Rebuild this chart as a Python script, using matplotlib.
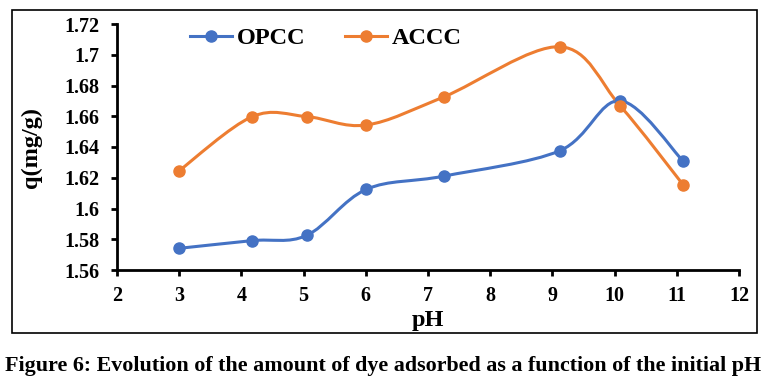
import matplotlib
matplotlib.use("Agg")
import matplotlib.pyplot as plt
from matplotlib.path import Path
from matplotlib.patches import PathPatch, Rectangle
from matplotlib.lines import Line2D
import numpy as np

# --- Data ---
ph = [3.0, 4.17, 5.05, 6.01, 7.26, 9.12, 10.09, 11.1]
q_opcc = [1.5741, 1.5791, 1.5825, 1.6125, 1.6211, 1.6376, 1.6701, 1.6309]
q_accc = [1.6246, 1.6597, 1.6598, 1.6543, 1.6727, 1.7052, 1.6667, 1.6155]

blue = "#4472C4"
orange = "#ED7D31"

plt.rcParams["font.family"] = ["Liberation Serif", "DejaVu Serif"]
plt.rcParams["font.weight"] = "bold"


def smooth_path(x, y):
    # Excel-like smoothed line: cubic Bezier segments through the points
    x = np.asarray(x, float)
    y = np.asarray(y, float)
    n = len(x)
    verts = [(x[0], y[0])]
    codes = [Path.MOVETO]
    for i in range(n - 1):
        i0 = max(i - 1, 0)
        i3 = min(i + 2, n - 1)
        c1 = (x[i] + (x[i + 1] - x[i0]) / 6, y[i] + (y[i + 1] - y[i0]) / 6)
        c2 = (x[i + 1] - (x[i3] - x[i]) / 6, y[i + 1] - (y[i3] - y[i]) / 6)
        verts += [c1, c2, (x[i + 1], y[i + 1])]
        codes += [Path.CURVE4] * 3
    return Path(verts, codes)


fig = plt.figure(figsize=(7.67, 3.92), dpi=100)
ax = fig.add_axes([117 / 767, 1 - 270 / 392, 622 / 767, 246 / 392])

for q, c in [(q_opcc, blue), (q_accc, orange)]:
    ax.add_patch(PathPatch(smooth_path(ph, q), facecolor="none", edgecolor=c, lw=2.2, zorder=2))
    ax.plot(ph, q, ls="none", marker="o", ms=8, color=c, zorder=3)

ax.set_xlim(2, 12)
ax.set_ylim(1.56, 1.72)
ax.set_xticks(range(2, 13))
ax.set_yticks(np.arange(1.56, 1.7201, 0.02))
ax.set_yticklabels(["1.56", "1.58", "1.6", "1.62", "1.64", "1.66", "1.68", "1.7", "1.72"])

for s in ["top", "right"]:
    ax.spines[s].set_visible(False)
for s in ["left", "bottom"]:
    ax.spines[s].set_linewidth(2)
ax.tick_params(axis="both", direction="out", length=4.5, width=2, labelsize=14.5)
ax.tick_params(axis="y", pad=8)
ax.tick_params(axis="x", pad=7)

ax.set_xlabel("pH", fontsize=17.5, fontweight="bold", labelpad=3)
ax.set_ylabel("q(mg/g)", fontsize=17.5, fontweight="bold", labelpad=16)

handles = [
    Line2D([], [], color=blue, lw=2.2, marker="o", ms=8),
    Line2D([], [], color=orange, lw=2.2, marker="o", ms=8),
]
ax.legend(handles, ["OPCC", "ACCC"], ncol=2, frameon=False, loc="center",
          bbox_to_anchor=(326 / 767, 1 - 38 / 392), bbox_transform=fig.transFigure,
          prop={"size": 17.5, "weight": "bold"}, handlelength=1.75, handletextpad=0.2,
          columnspacing=1.6)

# outer frame around the chart
fig.patches.append(Rectangle((12 / 767, 1 - 333 / 392), 745 / 767, 323 / 392,
                             transform=fig.transFigure, fill=False, ec="black", lw=1.2))

fig.text(0.5, 1 - 366 / 392,
         "Figure 6: Evolution of the amount of dye adsorbed as a function of the initial pH",
         ha="center", va="center", fontsize=15.8, fontweight="bold")

fig.savefig("out.png", dpi=100)
